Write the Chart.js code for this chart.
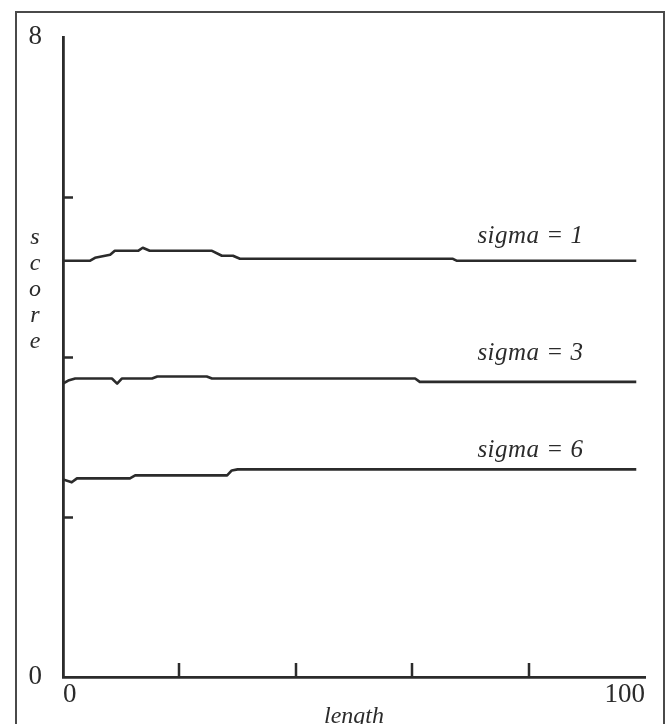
<!DOCTYPE html>
<html>
<head>
<meta charset="utf-8">
<script src="https://cdn.jsdelivr.net/npm/chart.js@4.4.1/dist/chart.umd.min.js"></script>
<style>
  html, body { margin: 0; padding: 0; background: #fff; overflow: hidden; }
  #wrap { position: relative; width: 670px; height: 724px; }
  #frame {
    position: absolute; left: 15px; top: 11px; width: 650px; height: 760px;
    border: 2px solid #4a4a4a; box-sizing: border-box;
  }
  #c { position: absolute; left: 0; top: 0; }
</style>
</head>
<body>
<div id="wrap">
  <div id="frame"></div>
  <canvas id="c" width="670" height="724"></canvas>
</div>
<script>
// Score against length for three smoothing widths, as [length, score] pairs
const sigma1 = [[0, 5.204], [4.6, 5.204], [5.5, 5.242], [8.1, 5.279], [8.9, 5.329], [12.9, 5.329],
  [13.7, 5.367], [14.9, 5.329], [25.6, 5.329], [27.3, 5.267], [29.2, 5.267], [30.4, 5.229],
  [67.0, 5.229], [67.7, 5.204], [98.5, 5.204]];
const sigma3 = [[0, 3.669], [0.9, 3.707], [2.1, 3.732], [8.4, 3.732], [9.3, 3.669], [10.1, 3.732],
  [15.3, 3.732], [16.2, 3.757], [24.7, 3.757], [25.6, 3.732], [60.5, 3.732], [61.3, 3.690],
  [98.5, 3.690]];
const sigma6 = [[0, 2.471], [1.5, 2.434], [2.4, 2.484], [11.5, 2.484], [12.4, 2.521], [28.2, 2.521],
  [29.0, 2.583], [30.0, 2.596], [98.5, 2.596]];

const seriesNames = ['sigma = 1', 'sigma = 3', 'sigma = 6'];
const xTicksLabelled = [0, 100];
const yTicksLabelled = [0, 8];
const yTitleLetters = ['s', 'c', 'o', 'r', 'e'];

const INK = '#2b2b2b';
const SERIF = '"Liberation Serif", "Times New Roman", serif';

const toPts = arr => arr.map(([x, y]) => ({ x, y }));

// Inward tick marks, curve captions and the stacked y title
const decor = {
  id: 'decor',
  afterDraw(chart, args, opts) {
    const { ctx, scales: { x, y } } = chart;
    ctx.save();
    ctx.strokeStyle = INK;
    ctx.lineWidth = 2.5;
    ctx.beginPath();
    y.ticks.forEach(t => {
      if (yTicksLabelled.includes(t.value)) return;
      const py = Math.round(y.getPixelForValue(t.value)) + 0.5;
      ctx.moveTo(x.left, py); ctx.lineTo(x.left + 10, py);
    });
    x.ticks.forEach(t => {
      if (xTicksLabelled.includes(t.value)) return;
      const px = Math.round(x.getPixelForValue(t.value));
      ctx.moveTo(px, y.bottom); ctx.lineTo(px, y.bottom - 14);
    });
    ctx.stroke();

    ctx.fillStyle = INK;
    ctx.font = 'italic 25px ' + SERIF;
    if ('letterSpacing' in ctx) ctx.letterSpacing = '0.5px';
    ctx.textAlign = 'left';
    ctx.textBaseline = 'alphabetic';
    chart.data.datasets.forEach((ds, i) => {
      const last = ds.data[ds.data.length - 1];
      const px = x.getPixelForValue(opts.captionAt);
      const py = y.getPixelForValue(last.y) - opts.captionLift[i];
      ctx.fillText(ds.label, px, py);
    });

    if ('letterSpacing' in ctx) ctx.letterSpacing = '0px';
    ctx.font = 'italic 24px ' + SERIF;
    ctx.textAlign = 'center';
    ctx.textBaseline = 'middle';
    yTitleLetters.forEach((ch, i) => {
      ctx.fillText(ch, opts.titleX, opts.titleTop + i * 26);
    });
    ctx.restore();
  }
};

new Chart(document.getElementById('c'), {
  type: 'line',
  data: {
    datasets: [sigma1, sigma3, sigma6].map((s, i) => ({
      label: seriesNames[i],
      data: toPts(s),
      borderColor: INK,
      borderWidth: 2.6,
      pointRadius: 0,
      tension: 0,
      fill: false,
      borderJoinStyle: 'round'
    }))
  },
  options: {
    responsive: false,
    devicePixelRatio: 1,
    animation: false,
    layout: { padding: { top: 36, right: 25, left: 0, bottom: 0 } },
    plugins: {
      legend: { display: false },
      tooltip: { enabled: false },
      decor: { captionAt: 71.2, captionLift: [18, 22, 12], titleX: 35, titleTop: 238 }
    },
    scales: {
      x: {
        type: 'linear',
        min: 0, max: 100,
        afterFit(s) { s.height = 47; },
        grid: { display: false, drawTicks: false },
        border: { display: true, color: INK, width: 2.8 },
        ticks: {
          stepSize: 20,
          align: 'inner',
          maxRotation: 0,
          autoSkip: false,
          padding: 2,
          color: INK,
          font: { family: SERIF, size: 27 },
          callback: v => (xTicksLabelled.includes(v) ? String(v) : '')
        },
        title: {
          display: true,
          text: 'length',
          color: INK,
          padding: { top: 0, bottom: -5 },
          font: { family: SERIF, size: 24, style: 'italic', lineHeight: 1 }
        }
      },
      y: {
        min: 0, max: 8,
        afterFit(s) { s.width = 63; },
        grid: { display: false, drawTicks: false },
        border: { display: true, color: INK, width: 2.8 },
        ticks: {
          stepSize: 2,
          autoSkip: false,
          padding: 21,
          color: INK,
          font: { family: SERIF, size: 27 },
          callback: v => (yTicksLabelled.includes(v) ? String(v) : '')
        }
      }
    }
  },
  plugins: [decor]
});
</script>
</body>
</html>
